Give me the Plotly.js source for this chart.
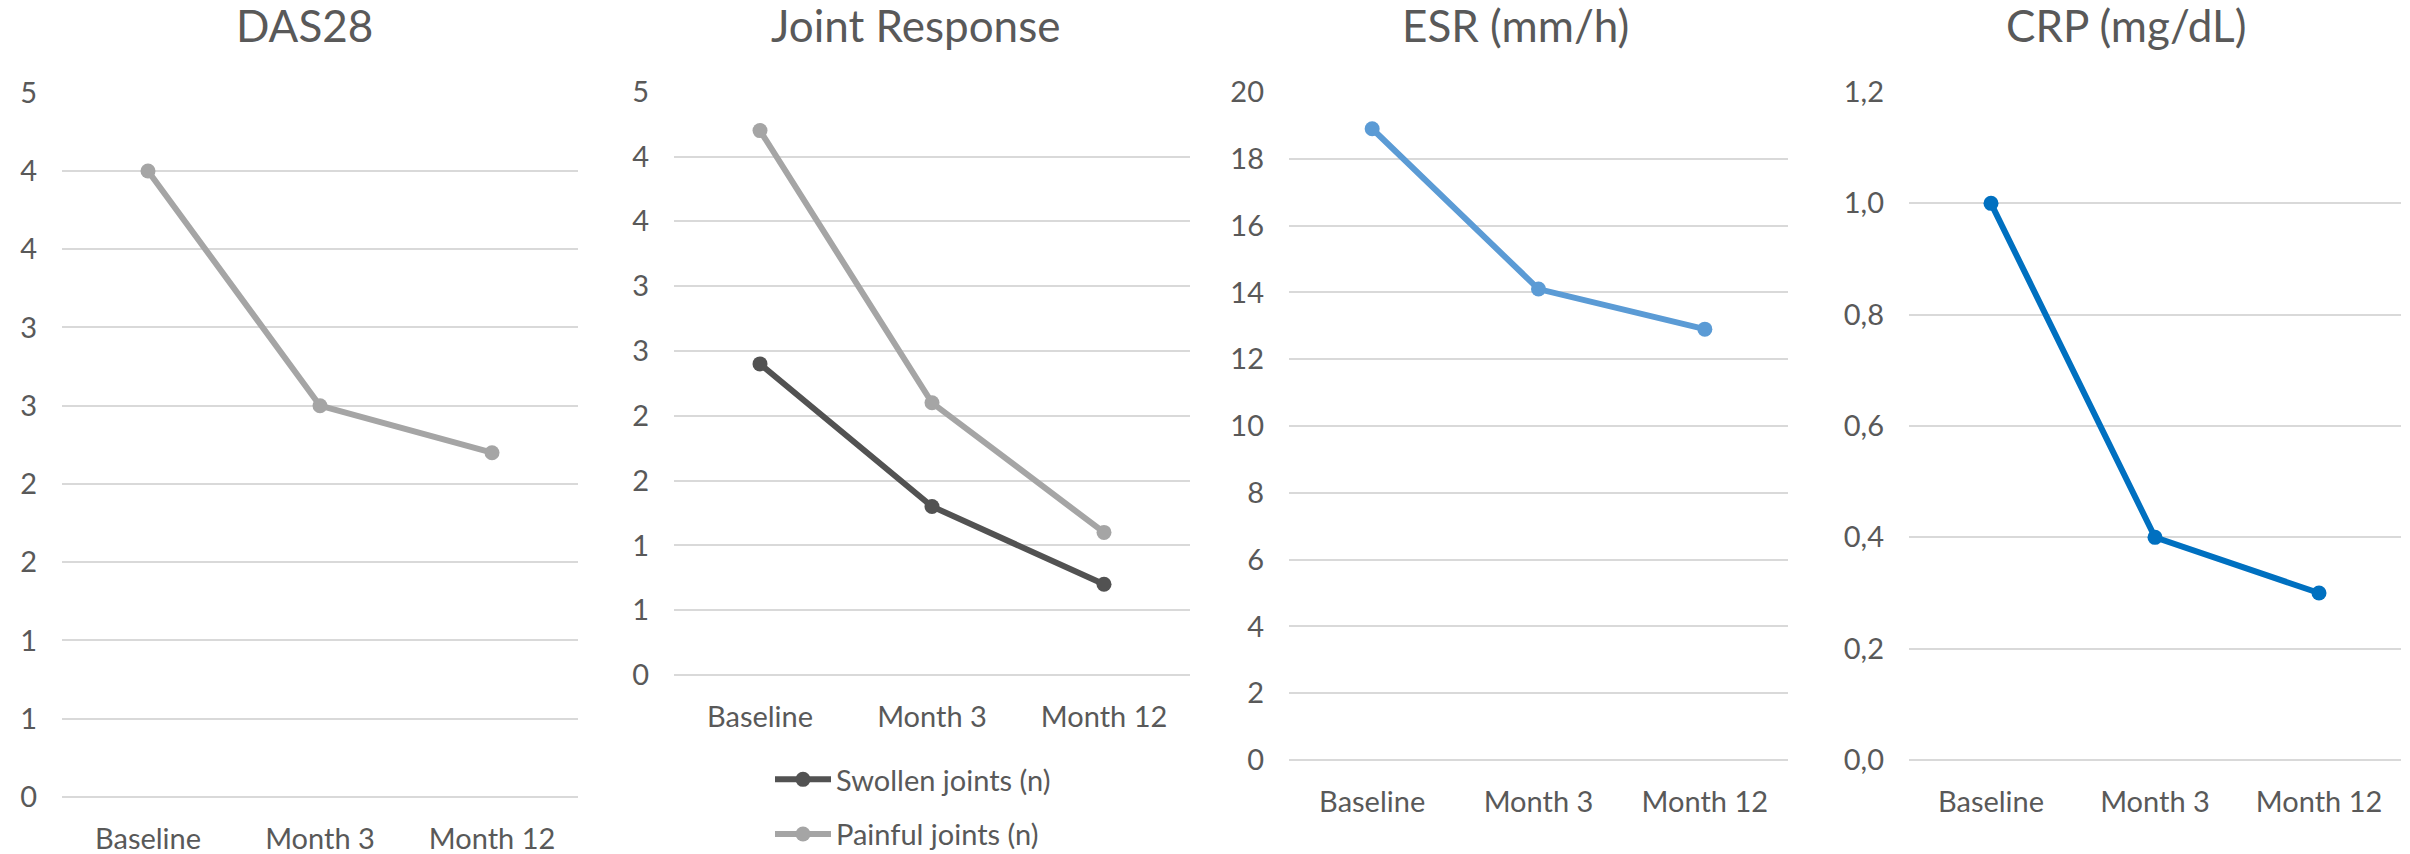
<!DOCTYPE html>
<html>
<head>
<meta charset="utf-8">
<script src="https://cdn.plot.ly/plotly-3.0.1.min.js"></script>
<style>
  html, body { margin: 0; padding: 0; background: #ffffff; }
  #chart { width: 2410px; height: 854px; }
</style>
</head>
<body>
<div id="chart"></div>
<script>
// Visits shared by all four panels
const visits = ["Baseline", "Month 3", "Month 12"];

// Disease activity score
const das28 = [4.0, 2.5, 2.2];

// Joint counts
const swollenJoints = [2.4, 1.3, 0.7];
const painfulJoints = [4.2, 2.1, 1.1];

// Inflammatory markers
const esr = [18.9, 14.1, 12.9];
const crp = [1.0, 0.4, 0.3];

// Panel titles
const panelTitles = ["DAS28", "Joint Response", "ESR (mm/h)", "CRP (mg/dL)"];

// Y tick values and their labels (whole-number labels on half-unit steps)
const halfStepTicks = [0, 0.5, 1, 1.5, 2, 2.5, 3, 3.5, 4, 4.5];
const halfStepLabels = ["0", "1", "1", "2", "2", "3", "3", "4", "4", "5"];
const esrTicks = [0, 2, 4, 6, 8, 10, 12, 14, 16, 18, 20];
const esrLabels = ["0", "2", "4", "6", "8", "10", "12", "14", "16", "18", "20"];
const crpTicks = [0, 0.2, 0.4, 0.6, 0.8, 1.0, 1.2];
const crpLabels = ["0,0", "0,2", "0,4", "0,6", "0,8", "1,0", "1,2"];

const W = 2410, H = 854;
const FONT = "Lato, 'Open Sans', sans-serif";
const TEXT = "#595959";
const GRID = "#D9D9D9";

function px(x) { return x / W; }
function py(y) { return 1 - y / H; }

function lineTrace(y, color, xa, ya, name, show, group) {
  return {
    type: "scatter", mode: "lines+markers",
    x: visits, y: y, xaxis: xa, yaxis: ya,
    name: name || "", showlegend: !!show, legendgroup: group || xa,
    line: { color: color, width: 6 },
    marker: { color: color, size: 15 },
    hoverinfo: "x+y"
  };
}

const traces = [
  lineTrace(das28, "#A5A5A5", "x", "y", "DAS28", false),
  lineTrace(swollenJoints, "#525252", "x2", "y2", "Swollen joints (n)", true, "sw"),
  lineTrace(painfulJoints, "#A5A5A5", "x2", "y2", "Painful joints (n)", true, "pa"),
  lineTrace(esr, "#5B9BD5", "x3", "y3", "ESR", false),
  lineTrace(crp, "#0070C0", "x4", "y4", "CRP", false)
];

function xAxis(l, r) {
  return {
    domain: [px(l), px(r)], type: "category", range: [-0.5, 2.5],
    showgrid: false, zeroline: false, showline: false, ticks: "",
    ticklabelstandoff: 22, fixedrange: true, automargin: false,
    tickfont: { family: FONT, size: 29, color: TEXT }
  };
}
function yAxis(t, b, rng, vals, labels, anchor) {
  return {
    domain: [py(b), py(t)], range: rng, anchor: anchor,
    tickvals: vals, ticktext: labels,
    showgrid: true, gridcolor: GRID, gridwidth: 2,
    zeroline: true, zerolinecolor: GRID, zerolinewidth: 2,
    showline: false, ticks: "", automargin: false,
    ticklabelstandoff: 24, fixedrange: true,
    tickfont: { family: FONT, size: 29, color: TEXT }
  };
}

const layout = {
  width: W, height: H,
  margin: { l: 0, r: 0, t: 0, b: 0, autoexpand: false },
  paper_bgcolor: "#ffffff", plot_bgcolor: "#ffffff",
  font: { family: FONT, color: TEXT },
  xaxis: Object.assign(xAxis(62, 578), { anchor: "y" }),
  yaxis: yAxis(92.7, 797, [0, 4.5], halfStepTicks, halfStepLabels, "x"),
  xaxis2: Object.assign(xAxis(674, 1190), { anchor: "y2" }),
  yaxis2: yAxis(91.7, 675, [0, 4.5], halfStepTicks, halfStepLabels, "x2"),
  xaxis3: Object.assign(xAxis(1289, 1788), { anchor: "y3" }),
  yaxis3: yAxis(92, 760, [0, 20], esrTicks, esrLabels, "x3"),
  xaxis4: Object.assign(xAxis(1909, 2401), { anchor: "y4" }),
  yaxis4: yAxis(92, 760, [0, 1.2], crpTicks, crpLabels, "x4"),
  showlegend: true,
  legend: {
    x: px(770), y: py(754), xanchor: "left", yanchor: "top",
    orientation: "v", traceorder: "grouped", tracegroupgap: 14,
    bgcolor: "rgba(0,0,0,0)",
    font: { family: FONT, size: 29, color: TEXT },
    itemwidth: 56
  },
  annotations: [
    [304, panelTitles[0]], [915, panelTitles[1]], [1515, panelTitles[2]], [2126, panelTitles[3]]
  ].map(function (a) {
    return {
      xref: "paper", yref: "paper", x: px(a[0]), y: py(25),
      xanchor: "center", yanchor: "middle", showarrow: false,
      text: a[1], font: { family: FONT, size: 44, color: TEXT }
    };
  })
};

Plotly.newPlot("chart", traces, layout, { staticPlot: true, displayModeBar: false });
</script>
</body>
</html>
